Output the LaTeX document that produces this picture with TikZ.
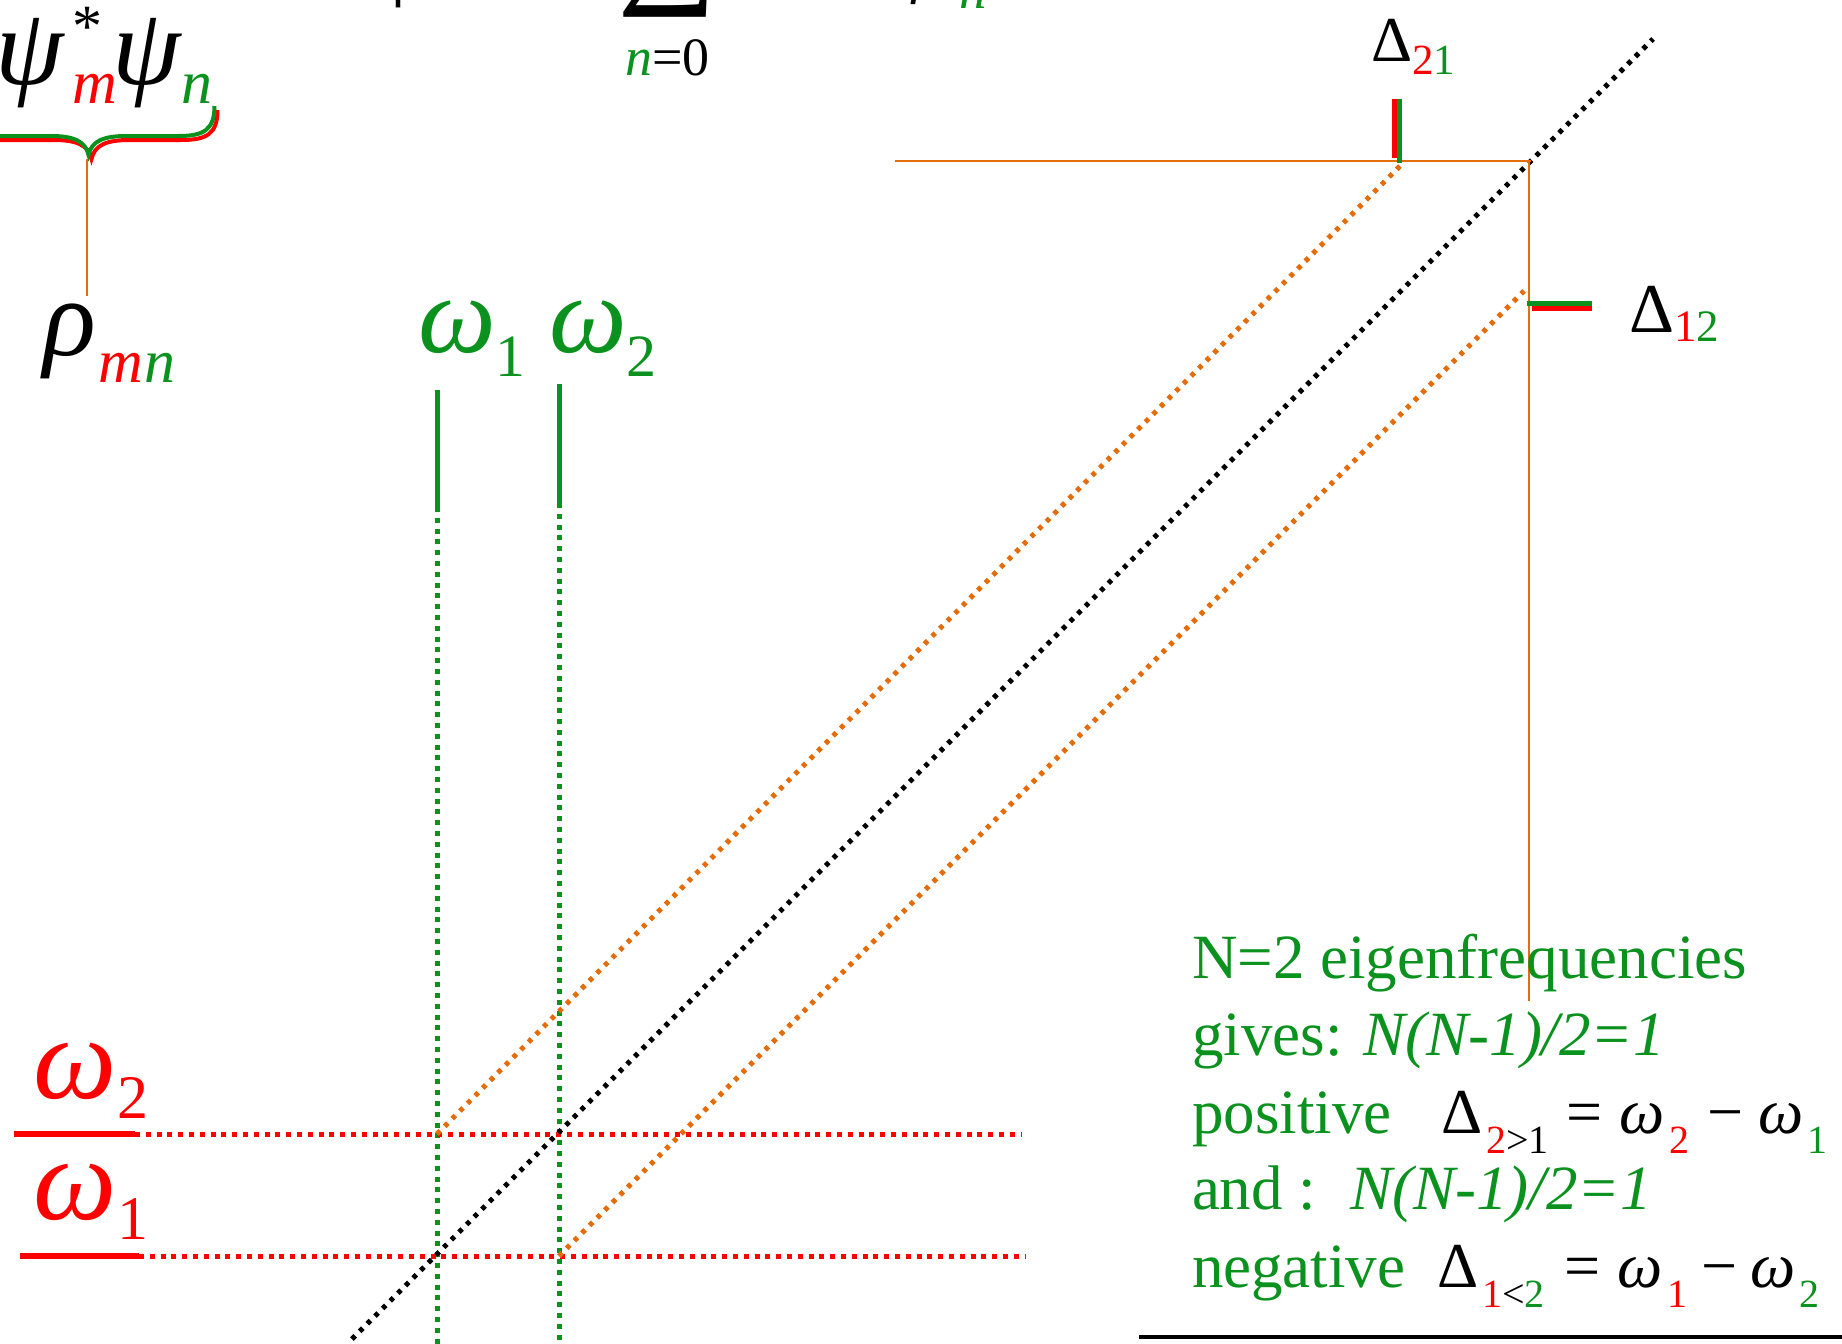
\documentclass[tikz,border=0pt]{standalone}
\usepackage{fontspec}
\setmainfont{Liberation Serif}
\newfontfamily\djv{DejaVu Sans}
\definecolor{pgreen}{RGB}{10,145,30}
\definecolor{pred}{RGB}{255,0,0}
\definecolor{porange}{RGB}{228,108,10}
\newcommand\fs[1]{\fontsize{#1}{#1}\selectfont}
\newcommand\lsub[3]{\raisebox{-#1pt}{\fs{#2}#3}}
\tikzset{
  lbl/.style={inner sep=0pt, outer sep=0pt, anchor=base west},
  orangeline/.style={draw=porange, line width=2.6pt},
  reddots/.style={draw=pred, line width=5pt, dash pattern=on 5pt off 5.8pt},
  greendots/.style={draw=pgreen, line width=5pt, dash pattern=on 5pt off 5.8pt},
  blackdots/.style={draw=black, line width=5pt, dash pattern=on 4.5pt off 6.3pt},
  orangedots/.style={draw=porange, line width=5pt, dash pattern=on 4.5pt off 6.3pt},
  redsolid/.style={draw=pred, line width=5.5pt},
  greensolid/.style={draw=pgreen, line width=5pt},
  tick/.style={line width=5pt},
  gtext/.style={lbl, text=pgreen, font=\fs{63}},
}
\begin{document}
\begin{tikzpicture}[x=1pt,y=-1pt]
\useasboundingbox (0,0) rectangle (1842,1344);
\clip (0,0) rectangle (1842,1344);

% ---- partially visible formula at top
\node[lbl] (ket) at (389,-12) {\fs{90}|\itshape Ψ\upshape\djv ⟩};
\node[inner sep=0pt, anchor=south] (sigma) at (667,18) {\fs{140}∑};
\node[lbl] (sumlow) at (625,75) {\fs{54}{\color{pgreen}\itshape n}=0};
\node[lbl] (psin) at (892,-15) {\fs{90}\itshape ψ\hspace{12pt}\lsub{23}{55}{\color{pgreen}n}};

% ---- psi*_m psi_n
\node[lbl] (psi1) at (-5,84) {\fs{110}\itshape ψ};
\node[lbl] (star) at (72,46) {\fs{60}*};
\node[lbl] (subm) at (72,103) {\fs{62}\itshape\color{pred} m};
\node[lbl] (psi2) at (112,84) {\fs{110}\itshape ψ};
\node[lbl] (subn) at (181,103) {\fs{62}\itshape\color{pgreen} n};

% brace (green over red)
\foreach \dx/\dy/\c in {1.5/2/pred,-1.5/-2/pgreen}{
  \draw[\c, line width=4pt, shift={(\dx,\dy)}]
    (216,108) .. controls (216,132) and (205,138) .. (180,138) -- (128,138)
    .. controls (105,138) and (93,143) .. (90,157)
    .. controls (87,143) and (75,138) .. (52,138) -- (0,138) -- (-40,138);
}
\coordinate (bracetip) at (87,159);
\coordinate (rhotop) at (87,296);
\draw[orangeline] (bracetip) -- (rhotop);

% rho_mn
\node[lbl] (rho) at (43,355) {\fs{110}\itshape ρ};
\node[lbl] (rhosub) at (98,382) {\fs{62}\itshape{\color{pred}m}\hspace{2pt}{\color{pgreen}n}};

% green omega labels
\node[lbl] (gw1) at (418,352) {\fs{110}\color{pgreen}\itshape ω\upshape\lsub{24}{60}{1}};
\node[lbl] (gw2) at (549,352) {\fs{110}\color{pgreen}\itshape ω\upshape\lsub{24}{60}{2}};

% red omega labels
\node[lbl] (rw2) at (34,1098) {\fs{118}\color{pred}\itshape ω\upshape\lsub{20}{62}{2}};
\node[lbl] (rw1) at (34,1219) {\fs{118}\color{pred}\itshape ω\upshape\lsub{20}{62}{1}};

% coordinates of the grid
\coordinate (g1top) at (437,390);
\coordinate (g1mid) at (437,507);
\coordinate (g1bot) at (437,1344);
\coordinate (g2top) at (559,384);
\coordinate (g2mid) at (559,503);
\coordinate (g2bot) at (559,1344);
\coordinate (r2l) at (14,1134);
\coordinate (r2m) at (135,1134);
\coordinate (r2r) at (1022,1134);
\coordinate (r1l) at (20,1256);
\coordinate (r1m) at (139,1256);
\coordinate (r1r) at (1026,1256);

\draw[greensolid] (g1top) -- (g1mid);
\draw[greensolid] (g2top) -- (g2mid);
\draw[greendots] (g1mid) -- (g1bot);
\draw[greendots] (g2mid) -- (g2bot);
\draw[redsolid] (r2l) -- (r2m);
\draw[reddots] (r2m) -- (r2r);
\draw[redsolid] (r1l) -- (r1m);
\draw[reddots] (r1m) -- (r1r);

% diagonals
\coordinate (dA) at (352,1339);
\coordinate (dB) at (1653,39);
\coordinate (u1) at (437,1134);
\coordinate (u2) at (1400,166);
\coordinate (l1) at (559,1256);
\coordinate (l2) at (1524,291);
\draw[blackdots] (dA) -- (dB);
\draw[orangedots] (u1) -- (u2);
\draw[orangedots] (l1) -- (l2);

% orange frame
\coordinate (hL) at (895,161);
\coordinate (corner) at (1529,161);
\coordinate (vB) at (1529,1001);
\draw[orangeline] (hL) -- (1531,161);
\draw[orangeline] (corner) -- (vB);

% ticks
\draw[tick, pred] (1394,99) -- (1394,158);
\draw[tick, pgreen] (1399,99) -- (1399,163);
\draw[tick, pgreen] (1527,303) -- (1592,303);
\draw[tick, pred] (1532,308) -- (1592,308);

% Delta labels
\node[lbl] (d21) at (1371,61) {\fs{64}Δ\lsub{13}{43}{{\color{pred}2}{\color{pgreen}1}}};
\node[lbl] (d12) at (1629,332) {\fs{70}Δ\lsub{9}{45}{{\color{pred}1}{\color{pgreen}2}}};

% text block
\node[gtext] (t1) at (1192,978) {N=2 eigenfrequencies};
\node[gtext] (t2) at (1192,1055) {gives: \itshape N(N-1)/2=1};
\node[gtext] (t3) at (1192,1133) {positive};
\node[lbl, font=\fs{64}] (m3) at (1441,1133)
  {Δ\hspace{4pt}\lsub{20}{40}{{\color{pred}2}>1}\hspace{18pt}=\hspace{17pt}{\itshape ω}\hspace{4pt}\lsub{20}{40}{\color{pred}2}\hspace{18pt}−\hspace{15pt}{\itshape ω}\hspace{4pt}\lsub{20}{40}{\color{pgreen}1}};
\node[gtext] (t4) at (1192,1209) {and :\hspace{34pt}\itshape N(N-1)/2=1};
\node[gtext] (t5) at (1192,1287) {negative};
\node[lbl, font=\fs{64}] (m5) at (1437,1287)
  {Δ\hspace{4pt}\lsub{20}{40}{{\color{pred}1}<{\color{pgreen}2}}\hspace{20pt}=\hspace{17pt}{\itshape ω}\hspace{4pt}\lsub{20}{40}{\color{pred}1}\hspace{14pt}−\hspace{13pt}{\itshape ω}\hspace{4pt}\lsub{20}{40}{\color{pgreen}2}};

\coordinate (baseL) at (1139,1337);
\coordinate (baseR) at (1842,1337);
\draw[line width=3.5pt] (baseL) -- (baseR);
\end{tikzpicture}
\end{document}
